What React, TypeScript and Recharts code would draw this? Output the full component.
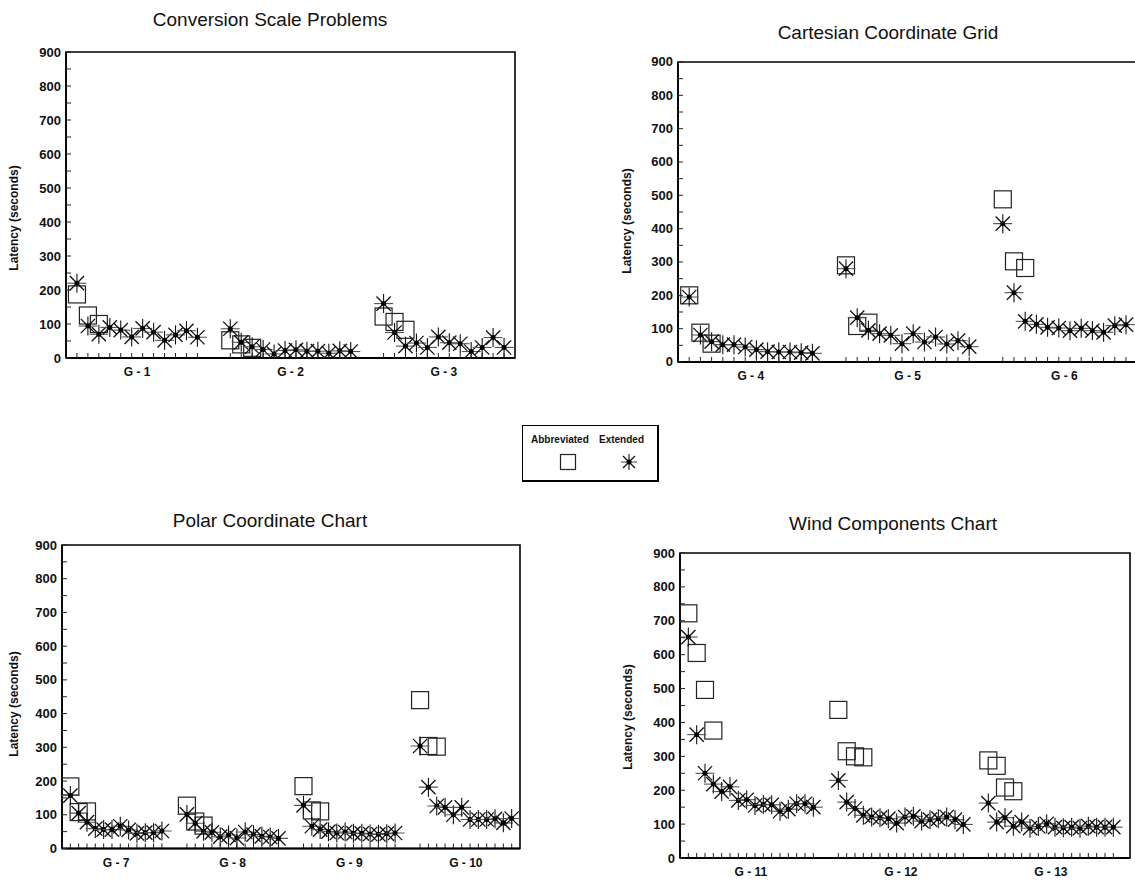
import React from 'react';
import { ScatterChart, Scatter, XAxis, YAxis, ReferenceArea } from 'recharts';

const FONT = '"Liberation Sans", Arial, Helvetica, sans-serif';

// ---------- data ----------
const panel1Groups = ['G - 1', 'G - 2', 'G - 3'];
const g1Ext = [220, 94, 70, 90, 82, 62, 87, 76, 52, 68, 80, 61];
const g1Abb = [187, 125, 100];
const g2Ext = [86, 46, 33, 25, 12, 22, 24, 20, 20, 14, 21, 19];
const g2Abb = [52, 40, 30];
const g3Ext = [160, 75, 35, 44, 31, 62, 45, 42, 19, 31, 60, 31];
const g3Abb = [122, 106, 83];

const panel2Groups = ['G - 4', 'G - 5', 'G - 6'];
const g4Ext = [195, 81, 61, 52, 52, 45, 37, 31, 30, 30, 28, 26];
const g4Abb = [200, 88, 55];
const g5Ext = [280, 133, 95, 85, 80, 55, 85, 60, 75, 54, 64, 46];
const g5Abb = [290, 108, 118];
const g6Ext = [415, 208, 122, 113, 104, 102, 94, 101, 94, 89, 109, 112];
const g6Abb = [488, 302, 282];

const panel3Groups = ['G - 7', 'G - 8', 'G - 9', 'G - 10'];
const g7Ext = [157, 105, 78, 59, 56, 56, 66, 55, 45, 47, 47, 52];
const g7Abb = [184, 108, 110];
const g8Ext = [101, 75, 51, 48, 35, 40, 31, 49, 41, 36, 34, 30];
const g8Abb = [127, 80, 68];
const g9Ext = [128, 66, 56, 50, 46, 49, 45, 45, 43, 42, 44, 46];
const g9Abb = [185, 113, 110];
const g10Ext = [304, 182, 126, 122, 100, 122, 86, 86, 86, 88, 76, 89];
const g10Abb = [440, 304, 302];

const panel4Groups = ['G - 11', 'G - 12', 'G - 13'];
const g11Ext = [652, 364, 250, 218, 196, 210, 170, 172, 155, 158, 157, 138, 144, 160, 160, 150];
const g11Abb = [722, 605, 496, 376];
const g12Ext = [229, 165, 146, 126, 121, 119, 116, 103, 121, 123, 109, 113, 116, 121, 113, 99];
const g12Abb = [437, 315, 300, 297];
const g13Ext = [162, 106, 119, 94, 106, 88, 93, 101, 91, 89, 91, 88, 94, 91, 91, 91];
const g13Abb = [288, 272, 208, 197];

const yTickValues = [0, 50, 100, 150, 200, 250, 300, 350, 400, 450, 500, 550, 600, 650, 700, 750, 800, 850, 900];
const yLabelValues = [0, 100, 200, 300, 400, 500, 600, 700, 800, 900];
const yAxisTitle = 'Latency (seconds)';
const legendLabels = ['Abbreviated', 'Extended'];

// ---------- marks ----------
const Star = ({ cx, cy, r = 9.5 }: any) => {
  if (cx == null || cy == null) return null;
  const d = r * 0.75;
  return (
    <g>
      <line x1={cx - r} y1={cy} x2={cx + r} y2={cy} stroke="#555" strokeWidth={1.1} />
      <line x1={cx} y1={cy - r} x2={cx} y2={cy + r} stroke="#111" strokeWidth={1.1} />
      <line x1={cx - d} y1={cy - d} x2={cx + d} y2={cy + d} stroke="#111" strokeWidth={1.3} />
      <line x1={cx - d} y1={cy + d} x2={cx + d} y2={cy - d} stroke="#111" strokeWidth={1.3} />
      <circle cx={cx} cy={cy} r={2.5} fill="#000" />
    </g>
  );
};

const Square = ({ cx, cy, s = 17 }: any) => {
  if (cx == null || cy == null) return null;
  return <rect x={cx - s / 2} y={cy - s / 2} width={s} height={s} fill="none" stroke="#222" strokeWidth={1.2} />;
};

// ---------- panel ----------
type PanelProps = {
  plotLeft: number;
  plotRight: number;
  plotTop: number;
  plotBottom: number;
  xMax: number;
  groups: string[];
  ext: number[][];
  abb: number[][];
  trials: number;
};

function Panel({ plotLeft, plotRight, plotTop, plotBottom, xMax, groups, ext, abb, trials }: PanelProps) {
  const ML = 60, MT = 10, MR = 10, XH = 30;
  const W = plotRight - plotLeft;
  const H = plotBottom - plotTop;
  const stride = trials + 2;
  const extData = ext.flatMap((arr, g) => arr.map((v, i) => ({ x: g * stride + i, y: v })));
  const abbData = abb.flatMap((arr, g) => arr.map((v, i) => ({ x: g * stride + i, y: v })));
  const minorTicks = ext.flatMap((arr, g) => arr.map((_, i) => g * stride + i));
  const labelTicks = groups.map((_, g) => g * stride + (trials - 1) / 2);
  const xTicks = [...minorTicks, ...labelTicks].sort((a, b) => a - b);

  const XTick = (props: any) => {
    const { x, y, payload } = props;
    const gi = labelTicks.indexOf(payload.value);
    if (gi >= 0) {
      return (
        <text x={x} y={y + 18} textAnchor="middle" fontFamily={FONT} fontSize={12} fontWeight="bold" fill="#111">
          {groups[gi]}
        </text>
      );
    }
    return <line x1={x} x2={x} y1={y} y2={y - 5} stroke="#222" strokeWidth={1} />;
  };

  const YTick = (props: any) => {
    const { x, y, payload } = props;
    const v = payload.value;
    const major = yLabelValues.includes(v);
    return (
      <g>
        <line x1={x} x2={x + 5} y1={y} y2={y} stroke="#222" strokeWidth={1} />
        {major ? (
          <text x={x - 5} y={y + 4.5} textAnchor="end" fontFamily={FONT} fontSize={13} fontWeight="bold" fill="#111">
            {v}
          </text>
        ) : null}
      </g>
    );
  };

  return (
    <div style={{ position: 'absolute', left: plotLeft - ML, top: plotTop - MT }}>
      <ScatterChart width={ML + W + MR} height={MT + H + XH} margin={{ top: MT, right: MR, left: 0, bottom: 0 }}>
        <XAxis
          type="number"
          dataKey="x"
          domain={[-1, xMax]}
          allowDataOverflow
          ticks={xTicks}
          interval={0}
          tickSize={0}
          tickMargin={0}
          tick={XTick}
          axisLine={{ stroke: '#000', strokeWidth: 2 }}
          height={XH}
        />
        <YAxis
          type="number"
          dataKey="y"
          domain={[0, 900]}
          allowDataOverflow
          ticks={yTickValues}
          interval={0}
          tickSize={0}
          tickMargin={0}
          tick={YTick}
          axisLine={{ stroke: '#000', strokeWidth: 1.6 }}
          width={ML}
        />
        <ReferenceArea x1={-1} x2={xMax} y1={0} y2={900} fill="none" fillOpacity={0} stroke="#000" strokeWidth={1.6} ifOverflow="visible" />
        <Scatter data={abbData} isAnimationActive={false} shape={(p: any) => <Square cx={p.cx} cy={p.cy} />} />
        <Scatter data={extData} isAnimationActive={false} shape={(p: any) => <Star cx={p.cx} cy={p.cy} />} />
      </ScatterChart>
    </div>
  );
}

const Title = ({ x, y, children }: any) => (
  <div
    style={{
      position: 'absolute',
      left: x,
      top: y,
      transform: 'translate(-50%, -50%)',
      fontFamily: FONT,
      fontSize: 19,
      color: '#111',
      whiteSpace: 'nowrap',
    }}
  >
    {children}
  </div>
);

const YTitle = ({ x, y }: any) => (
  <div
    style={{
      position: 'absolute',
      left: x,
      top: y,
      transform: 'translate(-50%, -50%) rotate(-90deg)',
      fontFamily: FONT,
      fontSize: 12,
      fontWeight: 'bold',
      color: '#111',
      whiteSpace: 'nowrap',
    }}
  >
    {yAxisTitle}
  </div>
);

export default function App() {
  return (
    <div
      style={{
        position: 'fixed',
        left: 0,
        top: 0,
        width: 1135,
        height: 884,
        overflow: 'hidden',
        background: '#fff',
        fontFamily: FONT,
      }}
    >
      <Title x={270} y={20}>Conversion Scale Problems</Title>
      <Title x={888} y={33}>Cartesian Coordinate Grid</Title>
      <Title x={270} y={521}>Polar Coordinate Chart</Title>
      <Title x={893} y={524}>Wind Components Chart</Title>

      <YTitle x={14} y={218} />
      <YTitle x={627} y={221} />
      <YTitle x={14} y={704} />
      <YTitle x={628} y={717} />

      <Panel
        plotLeft={66}
        plotRight={515}
        plotTop={51.5}
        plotBottom={357.5}
        xMax={40}
        groups={panel1Groups}
        ext={[g1Ext, g2Ext, g3Ext]}
        abb={[g1Abb, g2Abb, g3Abb]}
        trials={12}
      />
      <Panel
        plotLeft={678}
        plotRight={1148.4}
        plotTop={61.5}
        plotBottom={361.5}
        xMax={41}
        groups={panel2Groups}
        ext={[g4Ext, g5Ext, g6Ext]}
        abb={[g4Abb, g5Abb, g6Abb]}
        trials={12}
      />
      <Panel
        plotLeft={62}
        plotRight={520}
        plotTop={545}
        plotBottom={848.5}
        xMax={54}
        groups={panel3Groups}
        ext={[g7Ext, g8Ext, g9Ext, g10Ext]}
        abb={[g7Abb, g8Abb, g9Abb, g10Abb]}
        trials={12}
      />
      <Panel
        plotLeft={680}
        plotRight={1130}
        plotTop={552.7}
        plotBottom={857.7}
        xMax={53}
        groups={panel4Groups}
        ext={[g11Ext, g12Ext, g13Ext]}
        abb={[g11Abb, g12Abb, g13Abb]}
        trials={16}
      />

      <div
        style={{
          position: 'absolute',
          left: 522,
          top: 425,
          width: 134,
          height: 54,
          border: '1px solid #000',
          borderRightWidth: 2,
          borderBottomWidth: 2,
          background: '#fff',
        }}
      >
        <div style={{ position: 'absolute', left: 8, top: 8, fontSize: 10, fontWeight: 'bold', color: '#111', whiteSpace: 'nowrap' }}>
          {legendLabels[0]}
        </div>
        <div style={{ position: 'absolute', left: 76, top: 8, fontSize: 10, fontWeight: 'bold', color: '#111', whiteSpace: 'nowrap' }}>
          {legendLabels[1]}
        </div>
        <svg style={{ position: 'absolute', left: 0, top: 0 }} width={134} height={54}>
          <Square cx={45} cy={36} s={15} />
          <Star cx={106} cy={36} r={8} />
        </svg>
      </div>
    </div>
  );
}
